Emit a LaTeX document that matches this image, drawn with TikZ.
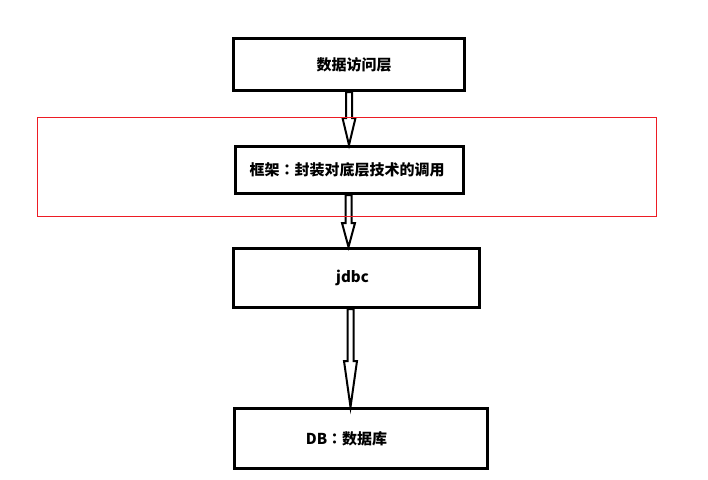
\documentclass[tikz,border=0pt]{standalone}
\usepackage{fontspec}
\newfontfamily\cjk{Noto Sans CJK SC}
\newfontfamily\cjktc{Noto Sans CJK TC}
\usetikzlibrary{calc}
\definecolor{paintred}{RGB}{237,28,36}
\newcommand\shiftedtext[2]{\makebox[0pt]{\hspace*{#1pt}#2}}
\newcommand\fwcolon{{\cjktc\bfseries ：}}
\newcommand\hollowarr[4]{%
  \draw[hollowarrow] let \p1=(#1.south), \p2=(#2.north) in
    (#3pt-3pt,\y1) -- (#3pt-3pt,\y2+#4pt) -- (#3pt-6.5pt,\y2+#4pt) --
    (#3pt,\y2) -- (#3pt+6.5pt,\y2+#4pt) -- (#3pt+3pt,\y2+#4pt) --
    (#3pt+3pt,\y1) -- cycle;}
\begin{document}
\begin{tikzpicture}[x=1pt,y=-1pt,
  box/.style={draw=black,line width=3pt,fill=white,inner sep=0pt,
    font=\cjk\bfseries\fontsize{15}{18}\selectfont},
  hollowarrow/.style={draw=black,fill=white,line width=2pt,line join=miter}]
\useasboundingbox (0,0) rectangle (708,479);
\node[box,minimum width=231pt,minimum height=52pt] (access) at (349,64.5) {\shiftedtext{10}{数据访问层}};
\node[box,minimum width=228pt,minimum height=47pt] (frame) at (349.5,170) {\shiftedtext{-5}{框架\fwcolon 封装对底层技术的调用}};
\node[box,minimum width=246pt,minimum height=59pt] (jdbc) at (356.5,278) {\shiftedtext{-8}{jdbc}};
\node[box,minimum width=253pt,minimum height=60pt] (db) at (361,438.5) {\shiftedtext{-29}{DB\fwcolon 数据库}};
\hollowarr{access}{frame}{349}{27}
\hollowarr{frame}{jdbc}{348.5}{24}
\hollowarr{jdbc}{db}{350.5}{46}
\draw[paintred,line width=1pt] (37.5,117.5) rectangle (656.5,216.5);
\end{tikzpicture}
\end{document}
